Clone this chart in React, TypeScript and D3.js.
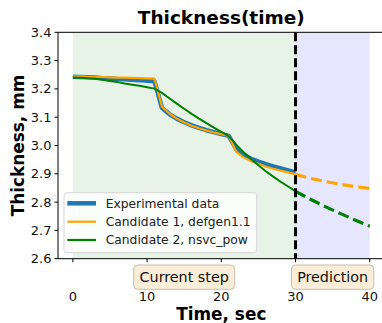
import React from "react";
import * as d3 from "d3";

const times = [0,1,2,3,4,5,6,7,8,9,10,11,12,13,14,15,16,17,18,19,20,21,22,23,24,25,26,27,28,29,30];
const experimental = [3.243,3.242,3.241,3.240,3.238,3.237,3.235,3.234,3.232,3.231,3.229,3.227,3.133,3.111,3.095,3.082,3.071,3.062,3.054,3.047,3.040,3.034,2.988,2.967,2.953,2.943,2.934,2.926,2.919,2.912,2.905];
const candidate1 = [3.244,3.244,3.243,3.243,3.242,3.241,3.240,3.240,3.239,3.238,3.237,3.236,3.137,3.113,3.095,3.081,3.070,3.061,3.053,3.046,3.040,3.034,2.978,2.958,2.945,2.935,2.926,2.918,2.911,2.905,2.898];
const candidate2 = [3.240,3.239,3.238,3.236,3.232,3.228,3.224,3.219,3.215,3.211,3.206,3.201,3.186,3.167,3.148,3.130,3.112,3.095,3.079,3.063,3.048,3.033,3.003,2.976,2.952,2.930,2.909,2.890,2.872,2.855,2.838];
const predTimes = [30,32,34,36,38,40];
const pred1 = [2.898,2.884,2.873,2.863,2.855,2.848];
const pred2 = [2.838,2.810,2.784,2.760,2.737,2.715];
const yTicks = [2.6,2.7,2.8,2.9,3.0,3.1,3.2,3.3,3.4];
const xTicks = [0,10,20,30,40];
const legendLabels = ["Experimental data","Candidate 1, defgen1.1","Candidate 2, nsvc_pow"];
const stageLabels = [{ t: 15, label: "Current step" }, { t: 35, label: "Prediction" }];
const splitTime = 30;
const endTime = 40;

const FONT = "DejaVu Sans, sans-serif";

export default function App() {
  const left = 58, right = 384.6, top = 32.3, bottom = 258.7;
  const x = d3.scaleLinear().domain([-2, 42]).range([left, right]);
  const y = d3.scaleLinear().domain([2.6, 3.4]).range([bottom, top]);
  const line = (ts: number[], vs: number[]) =>
    d3.line<number>().x((_, i) => x(ts[i])).y((v) => y(v))(vs) || "";

  const legendColors = ["#1f77b4", "orange", "green"];
  const legendWidths = [4.5, 2.2, 2.2];
  const legendRows = [203.3, 221.7, 240];

  const boxW = [101, 82.3];

  return (
    <svg width={382} height={323} style={{ position: "absolute", left: 0, top: 0 }} fontFamily={FONT}>
      <rect x={0} y={0} width={382} height={323} fill="white" />
      {/* shading */}
      <rect x={x(0)} y={top} width={x(splitTime) - x(0)} height={bottom - top} fill="#e6f3e6" />
      <rect x={x(splitTime)} y={top} width={x(endTime) - x(splitTime)} height={bottom - top} fill="#e6e6ff" />

      {/* lines */}
      <path d={line(times, experimental)} fill="none" stroke="#1f77b4" strokeWidth={4.5} strokeLinejoin="round" />
      <path d={line(times, candidate1)} fill="none" stroke="orange" strokeWidth={2.2} strokeLinejoin="round" />
      <path d={line(times, candidate2)} fill="none" stroke="green" strokeWidth={2} strokeLinejoin="round" />
      <path d={line(predTimes, pred1)} fill="none" stroke="orange" strokeWidth={3.2} strokeDasharray="11,5" />
      <path d={line(predTimes, pred2)} fill="none" stroke="green" strokeWidth={3.2} strokeDasharray="11,5" />

      {/* vertical split line */}
      <line x1={x(splitTime)} x2={x(splitTime)} y1={top} y2={bottom} stroke="black" strokeWidth={3} strokeDasharray="9,4" />

      {/* legend */}
      <rect x={64} y={192.7} width={192.7} height={60} rx={3} fill="white" fillOpacity={0.8} stroke="#d6d6d6" strokeWidth={1} />
      {legendLabels.map((lab, i) => (
        <g key={lab}>
          <line x1={67.3} x2={96} y1={legendRows[i]} y2={legendRows[i]} stroke={legendColors[i]} strokeWidth={legendWidths[i]} />
          <text x={105.7} y={legendRows[i]} dy="0.35em" fontSize={12.3} fill="#222">{lab}</text>
        </g>
      ))}

      {/* spines */}
      <line x1={left} x2={left} y1={top} y2={bottom} stroke="black" strokeWidth={1} />
      <line x1={left} x2={right} y1={bottom} y2={bottom} stroke="black" strokeWidth={1} />
      <line x1={left} x2={right} y1={top} y2={top} stroke="black" strokeWidth={1} />
      <line x1={right} x2={right} y1={top} y2={bottom} stroke="black" strokeWidth={1} />

      {/* y ticks */}
      {yTicks.map((t) => (
        <g key={t}>
          <line x1={left - 3.5} x2={left} y1={y(t)} y2={y(t)} stroke="black" strokeWidth={1} />
          <text x={left - 6.5} y={y(t)} dy="0.35em" textAnchor="end" fontSize={13} fill="#111">{t.toFixed(1)}</text>
        </g>
      ))}
      {/* x ticks */}
      {xTicks.map((t) => (
        <g key={t}>
          <line x1={x(t)} x2={x(t)} y1={bottom} y2={bottom + 3.5} stroke="black" strokeWidth={1} />
          <text x={x(t)} y={296.7} dy="0.35em" textAnchor="middle" fontSize={13} fill="#111">{t}</text>
        </g>
      ))}

      {/* stage boxes */}
      {stageLabels.map((s, i) => (
        <g key={s.label}>
          <rect x={x(s.t) - boxW[i] / 2} y={265} width={boxW[i]} height={24.3} rx={4} fill="#faeed9" stroke="#c4bcad" strokeWidth={1} />
          <text x={x(s.t)} y={277.2} dy="0.35em" textAnchor="middle" fontSize={14.3} fill="#111">{s.label}</text>
        </g>
      ))}

      {/* title and labels */}
      <text x={(left + right) / 2} y={24} textAnchor="middle" fontSize={18.5} fontWeight="bold">Thickness(time)</text>
      <text x={(left + right) / 2} y={319.5} textAnchor="middle" fontSize={16.9} fontWeight="bold">Time, sec</text>
      <text transform={`translate(18,${(top + bottom) / 2}) rotate(-90)`} dy="0.35em" textAnchor="middle" fontSize={16.9} fontWeight="bold">Thickness, mm</text>
    </svg>
  );
}
